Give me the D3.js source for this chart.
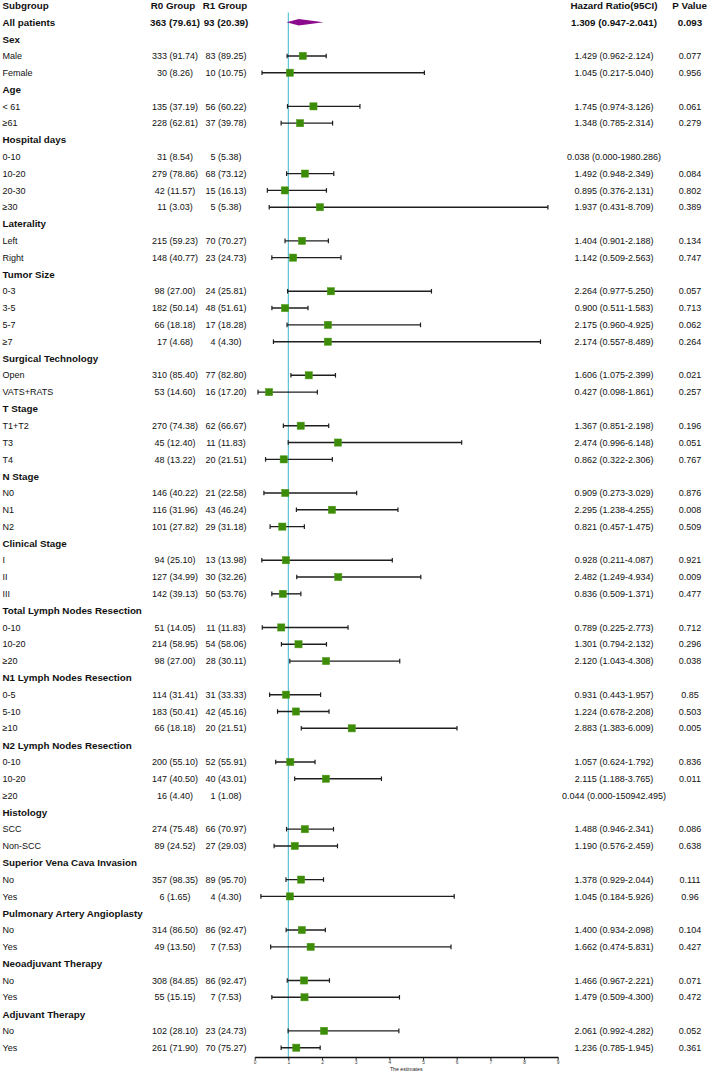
<!DOCTYPE html>
<html><head><meta charset="utf-8">
<script src="https://cdn.jsdelivr.net/npm/d3@7"></script>
<style>
html,body{margin:0;padding:0;background:#fff;}
svg{display:block;font-family:"Liberation Sans",Arial,sans-serif;}
</style></head>
<body>
<svg id="chart" width="709" height="1074"></svg>
<script>
const headers = ["Subgroup","R0 Group","R1 Group","Hazard Ratio(95CI)","P Value"];
const labels = ["All patients",
 "Sex","Male","Female",
 "Age","< 61","≥61",
 "Hospital days","0-10","10-20","20-30","≥30",
 "Laterality","Left","Right",
 "Tumor Size","0-3","3-5","5-7","≥7",
 "Surgical Technology","Open","VATS+RATS",
 "T Stage","T1+T2","T3","T4",
 "N Stage","N0","N1","N2",
 "Clinical Stage","I","II","III",
 "Total Lymph Nodes Resection","0-10","10-20","≥20",
 "N1 Lymph Nodes Resection","0-5","5-10","≥10",
 "N2 Lymph Nodes Resection","0-10","10-20","≥20",
 "Histology","SCC","Non-SCC",
 "Superior Vena Cava Invasion","No","Yes",
 "Pulmonary Artery Angioplasty","No","Yes",
 "Neoadjuvant Therapy","No","Yes",
 "Adjuvant Therapy","No","Yes"];
const r0n = [363,
 null,333,30,
 null,135,228,
 null,31,279,42,11,
 null,215,148,
 null,98,182,66,17,
 null,310,53,
 null,270,45,48,
 null,146,116,101,
 null,94,127,142,
 null,51,214,98,
 null,114,183,66,
 null,200,147,16,
 null,274,89,
 null,357,6,
 null,314,49,
 null,308,55,
 null,102,261];
const r0p = [79.61,
 null,91.74,8.26,
 null,37.19,62.81,
 null,8.54,78.86,11.57,3.03,
 null,59.23,40.77,
 null,27.00,50.14,18.18,4.68,
 null,85.40,14.60,
 null,74.38,12.40,13.22,
 null,40.22,31.96,27.82,
 null,25.10,34.99,39.13,
 null,14.05,58.95,27.00,
 null,31.41,50.41,18.18,
 null,55.10,40.50,4.40,
 null,75.48,24.52,
 null,98.35,1.65,
 null,86.50,13.50,
 null,84.85,15.15,
 null,28.10,71.90];
const r1n = [93,
 null,83,10,
 null,56,37,
 null,5,68,15,5,
 null,70,23,
 null,24,48,17,4,
 null,77,16,
 null,62,11,20,
 null,21,43,29,
 null,13,30,50,
 null,11,54,28,
 null,31,42,20,
 null,52,40,1,
 null,66,27,
 null,89,4,
 null,86,7,
 null,86,7,
 null,23,70];
const r1p = [20.39,
 null,89.25,10.75,
 null,60.22,39.78,
 null,5.38,73.12,16.13,5.38,
 null,70.27,24.73,
 null,25.81,51.61,18.28,4.30,
 null,82.80,17.20,
 null,66.67,11.83,21.51,
 null,22.58,46.24,31.18,
 null,13.98,32.26,53.76,
 null,11.83,58.06,30.11,
 null,33.33,45.16,21.51,
 null,55.91,43.01,1.08,
 null,70.97,29.03,
 null,95.70,4.30,
 null,92.47,7.53,
 null,92.47,7.53,
 null,24.73,75.27];
const hr = [1.309,
 null,1.429,1.045,
 null,1.745,1.348,
 null,0.038,1.492,0.895,1.937,
 null,1.404,1.142,
 null,2.264,0.900,2.175,2.174,
 null,1.606,0.427,
 null,1.367,2.474,0.862,
 null,0.909,2.295,0.821,
 null,0.928,2.482,0.836,
 null,0.789,1.301,2.120,
 null,0.931,1.224,2.883,
 null,1.057,2.115,0.044,
 null,1.488,1.190,
 null,1.378,1.045,
 null,1.400,1.662,
 null,1.466,1.479,
 null,2.061,1.236];
const lower = [0.947,
 null,0.962,0.217,
 null,0.974,0.785,
 null,0.000,0.948,0.376,0.431,
 null,0.901,0.509,
 null,0.977,0.511,0.960,0.557,
 null,1.075,0.098,
 null,0.851,0.996,0.322,
 null,0.273,1.238,0.457,
 null,0.211,1.249,0.509,
 null,0.225,0.794,1.043,
 null,0.443,0.678,1.383,
 null,0.624,1.188,0.000,
 null,0.946,0.576,
 null,0.929,0.184,
 null,0.934,0.474,
 null,0.967,0.509,
 null,0.992,0.785];
const upper = [2.041,
 null,2.124,5.040,
 null,3.126,2.314,
 null,1980.286,2.349,2.131,8.709,
 null,2.188,2.563,
 null,5.250,1.583,4.925,8.489,
 null,2.399,1.861,
 null,2.198,6.148,2.306,
 null,3.029,4.255,1.475,
 null,4.087,4.934,1.371,
 null,2.773,2.132,4.308,
 null,1.957,2.208,6.009,
 null,1.792,3.765,150942.495,
 null,2.341,2.459,
 null,2.044,5.926,
 null,2.098,5.831,
 null,2.221,4.300,
 null,4.282,1.945];
const pValues = ["0.093",
 "","0.077","0.956",
 "","0.061","0.279",
 "","","0.084","0.802","0.389",
 "","0.134","0.747",
 "","0.057","0.713","0.062","0.264",
 "","0.021","0.257",
 "","0.196","0.051","0.767",
 "","0.876","0.008","0.509",
 "","0.921","0.009","0.477",
 "","0.712","0.296","0.038",
 "","0.85","0.503","0.005",
 "","0.836","0.011","",
 "","0.086","0.638",
 "","0.111","0.96",
 "","0.104","0.427",
 "","0.071","0.472",
 "","0.052","0.361"];
const xTicks = [0,1,2,3,4,5,6,7,8,9];
const xTitle = "The estimates";

const svg = d3.select("#chart");
const rowsIdx = d3.range(labels.length + 1); // 0 = header row
const y = d3.scalePoint().domain(rowsIdx).range([5.5, 1047.7]);
const x = d3.scaleLinear().domain([0, 9]).range([254.7, 557.7]);
const f3 = d3.format(".3f");
const cnt = (n, p) => n + " (" + p.toFixed(2) + ")";

const colX = {sub: 2.5, r0: 175, r1: 226, hrc: 614, p: 690};
const regSize = 9, boldSize = 9.8;

// headers
const hdr = svg.append("g").attr("font-weight", "bold").attr("font-size", boldSize).attr("fill", "#111");
const hx = [colX.sub, 173, 225, 614, 707];
const ha = ["start", "middle", "middle", "middle", "end"];
headers.forEach((h, i) => {
  hdr.append("text").attr("x", hx[i]).attr("y", y(0)).attr("dy", "0.35em")
    .attr("text-anchor", ha[i]).text(h);
});

const rows = labels.map((l, i) => ({
  label: l, idx: i + 1, section: r0n[i] === null, overall: i === 0,
  r0: r0n[i] === null ? "" : cnt(r0n[i], r0p[i]),
  r1: r1n[i] === null ? "" : cnt(r1n[i], r1p[i]),
  hr: hr[i], lo: lower[i], hi: upper[i], p: pValues[i]
}));

const tg = svg.append("g").attr("fill", "#111");
rows.forEach(r => {
  const bold = r.section || r.overall;
  const g = tg.append("g").attr("font-size", bold ? boldSize : regSize).attr("font-weight", bold ? "bold" : "normal");
  const yy = y(r.idx);
  g.append("text").attr("x", colX.sub).attr("y", yy).attr("dy", "0.35em").text(r.label);
  if (!r.section) {
    g.append("text").attr("x", colX.r0).attr("y", yy).attr("dy", "0.35em").attr("text-anchor", "middle").text(r.r0);
    g.append("text").attr("x", colX.r1).attr("y", yy).attr("dy", "0.35em").attr("text-anchor", "middle").text(r.r1);
    g.append("text").attr("x", colX.hrc).attr("y", yy).attr("dy", "0.35em").attr("text-anchor", "middle")
      .text(f3(r.hr) + " (" + f3(r.lo) + "-" + f3(r.hi) + ")");
    g.append("text").attr("x", colX.p).attr("y", yy).attr("dy", "0.35em").attr("text-anchor", "middle").text(r.p);
  }
});

const axisY = y(rowsIdx.length - 1) + 9.3;

// reference line at 1
svg.append("line").attr("x1", x(1)).attr("x2", x(1)).attr("y1", 12.5).attr("y2", axisY)
  .attr("stroke", "#5cc3d8").attr("stroke-width", 1.2);

// CIs and squares
const plotted = rows.filter(r => !r.section && !r.overall && r.lo > 0 && r.hi <= 9);
const cg = svg.append("g");
plotted.forEach(r => {
  const yy = y(r.idx);
  cg.append("line").attr("x1", x(r.lo)).attr("x2", x(r.hi)).attr("y1", yy).attr("y2", yy)
    .attr("stroke", "#1e1e1e").attr("stroke-width", 1.4);
  [r.lo, r.hi].forEach(v => cg.append("line").attr("x1", x(v)).attr("x2", x(v))
    .attr("y1", yy - 2.3).attr("y2", yy + 2.3).attr("stroke", "#1e1e1e").attr("stroke-width", 1.2));
  cg.append("rect").attr("x", x(r.hr) - 3.6).attr("y", yy - 3.6).attr("width", 7.2).attr("height", 7.2)
    .attr("fill", "#3c8c07").attr("stroke", "#4f9a1d").attr("stroke-width", 0.5);
});

// overall diamond
const ov = rows[0];
const oy = y(ov.idx);
svg.append("path")
  .attr("d", `M${x(ov.lo)},${oy} L${x(ov.hr)},${oy - 3.2} L${x(ov.hi)},${oy} L${x(ov.hr)},${oy + 3.2} Z`)
  .attr("fill", "#8c0b8c");

// axis
const ax = svg.append("g").attr("transform", `translate(0,${axisY})`)
  .call(d3.axisBottom(x).tickValues(xTicks).tickFormat(d3.format("d")).tickSize(3).tickSizeOuter(0));
ax.select(".domain").attr("stroke", "#111").attr("stroke-width", 1.4);
ax.selectAll(".tick line").attr("stroke", "#111").attr("stroke-width", 0.9);
ax.selectAll(".tick text").attr("font-size", 4.8).attr("fill", "#333").attr("dy", "0.2em")
  .attr("font-family", "'Liberation Sans',Arial,sans-serif");
svg.append("text").attr("x", x(4.5)).attr("y", axisY + 14).attr("text-anchor", "middle")
  .attr("font-size", 5.2).attr("fill", "#222").text(xTitle);
</script>
</body></html>
